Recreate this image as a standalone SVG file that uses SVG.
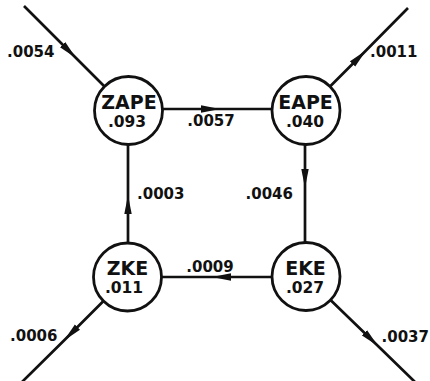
<svg xmlns="http://www.w3.org/2000/svg" width="430" height="381" viewBox="0 0 430 381">
<style>
.edge{fill:none;stroke:#111;stroke-width:2.7;marker-mid:url(#ah)}
.node circle{fill:#fff;stroke:#111;stroke-width:2.8}
.nm{font-family:"DejaVu Sans",sans-serif;font-weight:bold;font-size:19px;fill:#111;text-anchor:middle}
.val{font-family:"DejaVu Sans",sans-serif;font-weight:bold;font-size:15.5px;fill:#111;text-anchor:middle}
.lbl{font-family:"DejaVu Sans",sans-serif;font-weight:bold;font-size:15px;fill:#111}
</style>
<defs>
<marker id="ah" viewBox="0 0 19 8" refX="19" refY="4" markerWidth="19" markerHeight="8" markerUnits="userSpaceOnUse" orient="auto">
<path d="M0,0.3 L19,4 L0,7.7 Z" fill="#111"/>
</marker>
</defs>
<rect width="430" height="381" fill="#fff"/>
<g id="connectors">
<path class="edge" d="M24,6 L76,58 L104.5,86.5"/>
<path class="edge" d="M162.5,109 L220,109 L272,109"/>
<path class="edge" d="M330,86.5 L366,50.5 L408,8"/>
<path class="edge" d="M305,144.5 L305,188 L305,242.5"/>
<path class="edge" d="M272,277 L212,277 L161.5,277"/>
<path class="edge" d="M128,243 L128,195 L128,144.5"/>
<path class="edge" d="M103.5,301 L64,340.5 L22,382"/>
<path class="edge" d="M330.5,300 L378,346 L415,382"/>
<text class="lbl" x="7" y="57">.0054</text>
<text class="lbl" x="370" y="57">.0011</text>
<text class="lbl" x="211" y="126" text-anchor="middle">.0057</text>
<text class="lbl" x="293" y="199" text-anchor="end">.0046</text>
<text class="lbl" x="137" y="199">.0003</text>
<text class="lbl" x="210" y="272" text-anchor="middle">.0009</text>
<text class="lbl" x="10" y="341">.0006</text>
<text class="lbl" x="429" y="342" text-anchor="end">.0037</text>
</g>
<g id="ZAPE" class="node">
<circle cx="128.5" cy="110.5" r="34"/>
<text class="nm" x="129" y="108.5">ZAPE</text>
<text class="val" x="127" y="127">.093</text>
</g>
<g id="EAPE" class="node">
<circle cx="306" cy="110.5" r="34"/>
<text class="nm" x="305.5" y="108.5">EAPE</text>
<text class="val" x="305" y="127">.040</text>
</g>
<g id="ZKE" class="node">
<circle cx="127.5" cy="277" r="34"/>
<text class="nm" x="127.5" y="275">ZKE</text>
<text class="val" x="124" y="293">.011</text>
</g>
<g id="EKE" class="node">
<circle cx="306" cy="276.5" r="34"/>
<text class="nm" x="305.5" y="275">EKE</text>
<text class="val" x="305" y="293">.027</text>
</g>
</svg>
